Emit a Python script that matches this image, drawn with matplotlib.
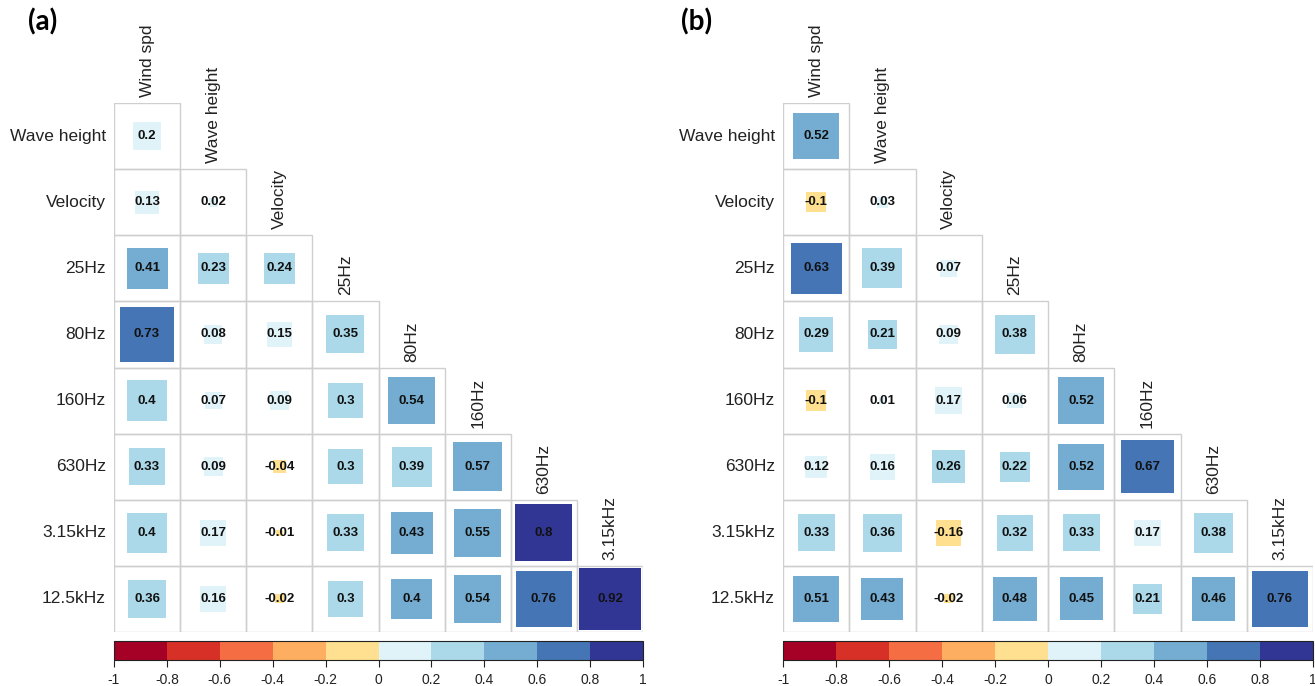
import numpy as np
import matplotlib.pyplot as plt
from matplotlib.colors import ListedColormap, BoundaryNorm
from matplotlib.patches import Rectangle
import matplotlib as mpl

plt.rcParams['font.family'] = ['Liberation Sans', 'DejaVu Sans']

#-------------------------------------------------------------------
# variables and lower-triangle correlations (row i holds r with cols 0..i)
#-------------------------------------------------------------------
col_names = ['Wind spd', 'Wave height', 'Velocity', '25Hz', '80Hz',
             '160Hz', '630Hz', '3.15kHz']
row_names = ['Wave height', 'Velocity', '25Hz', '80Hz', '160Hz',
             '630Hz', '3.15kHz', '12.5kHz']

corr_a = [
    [0.198],
    [0.13, 0.02],
    [0.41, 0.23, 0.24],
    [0.73, 0.08, 0.15, 0.35],
    [0.398, 0.07, 0.09, 0.3, 0.54],
    [0.33, 0.09, -0.04, 0.3, 0.39, 0.57],
    [0.398, 0.17, -0.01, 0.33, 0.43, 0.55, 0.8],
    [0.36, 0.16, -0.02, 0.3, 0.402, 0.54, 0.76, 0.92],
]

corr_b = [
    [0.52],
    [-0.1, 0.03],
    [0.63, 0.39, 0.07],
    [0.29, 0.21, 0.09, 0.38],
    [-0.1, 0.01, 0.17, 0.06, 0.52],
    [0.12, 0.16, 0.26, 0.22, 0.52, 0.67],
    [0.33, 0.36, -0.16, 0.32, 0.33, 0.17, 0.38],
    [0.51, 0.43, -0.02, 0.48, 0.45, 0.21, 0.46, 0.76],
]

palette = ['#A50026', '#D73027', '#F46D43', '#FDAE61', '#FEE090',
           '#E0F3F8', '#ABD9E9', '#74ADD1', '#4575B4', '#313695']
cbar_ticks = [-1, -0.8, -0.6, -0.4, -0.2, 0, 0.2, 0.4, 0.6, 0.8, 1]


def pick_color(v):
    k = int(np.floor((v + 1) * 5 + 1e-9))
    return palette[min(max(k, 0), 9)]


def fmt(v):
    return '{:g}'.format(round(v, 2))


def corrplot(ax, corr):
    n = len(row_names)
    for i in range(n):
        for j in range(i + 1):
            v = corr[i][j]
            ax.add_patch(Rectangle((j, i), 1, 1, facecolor='none',
                                   edgecolor='#cfcfcf', lw=1.0, zorder=1))
            s = np.sqrt(abs(v)) * 0.97
            ax.add_patch(Rectangle((j + 0.5 - s / 2, i + 0.5 - s / 2), s, s,
                                   facecolor=pick_color(v), edgecolor='none',
                                   zorder=2))
            ax.text(j + 0.5, i + 0.5, fmt(v), ha='center', va='center',
                    fontsize=9.5, fontweight='bold', color='#111111', zorder=3)
    for i, name in enumerate(row_names):
        ax.text(-0.12, i + 0.5, name, ha='right', va='center', fontsize=12.5,
                color='#222222')
    for j, name in enumerate(col_names):
        ax.text(j + 0.5, j - 0.09, name, ha='center', va='bottom',
                rotation=90, fontsize=12.5, color='#222222')
    ax.set_xlim(0, n)
    ax.set_ylim(n, 0)
    ax.axis('off')


def colorbar(cax):
    cmap = ListedColormap(palette)
    norm = BoundaryNorm(np.linspace(-1, 1, 11), cmap.N)
    cb = mpl.colorbar.ColorbarBase(cax, cmap=cmap, norm=norm,
                                   orientation='horizontal', ticks=cbar_ticks)
    cb.set_ticklabels([fmt(t) for t in cbar_ticks])
    cb.outline.set_linewidth(0.8)
    cb.outline.set_edgecolor('#222222')
    cax.tick_params(length=5, width=0.8, labelsize=10, pad=4, colors='#222222')


W, H = 1315, 686
fig = plt.figure(figsize=(W / 100, H / 100), dpi=100)

panels = [('(a)', corr_a, 114, 643, 43), ('(b)', corr_b, 783, 1313, 697)]
for tag, corr, x0, x1, tx in panels:
    ax = fig.add_axes([x0 / W, 1 - 632 / H, (x1 - x0) / W, 529 / H])
    corrplot(ax, corr)
    cax = fig.add_axes([x0 / W, 1 - 660 / H, (x1 - x0) / W, 19 / H])
    colorbar(cax)
    fig.text(tx / W, 1 - 22 / H, tag, ha='center', va='center', fontsize=20,
             fontweight='bold', family=['Lato', 'DejaVu Sans'])

fig.savefig('out.png', dpi=100)
